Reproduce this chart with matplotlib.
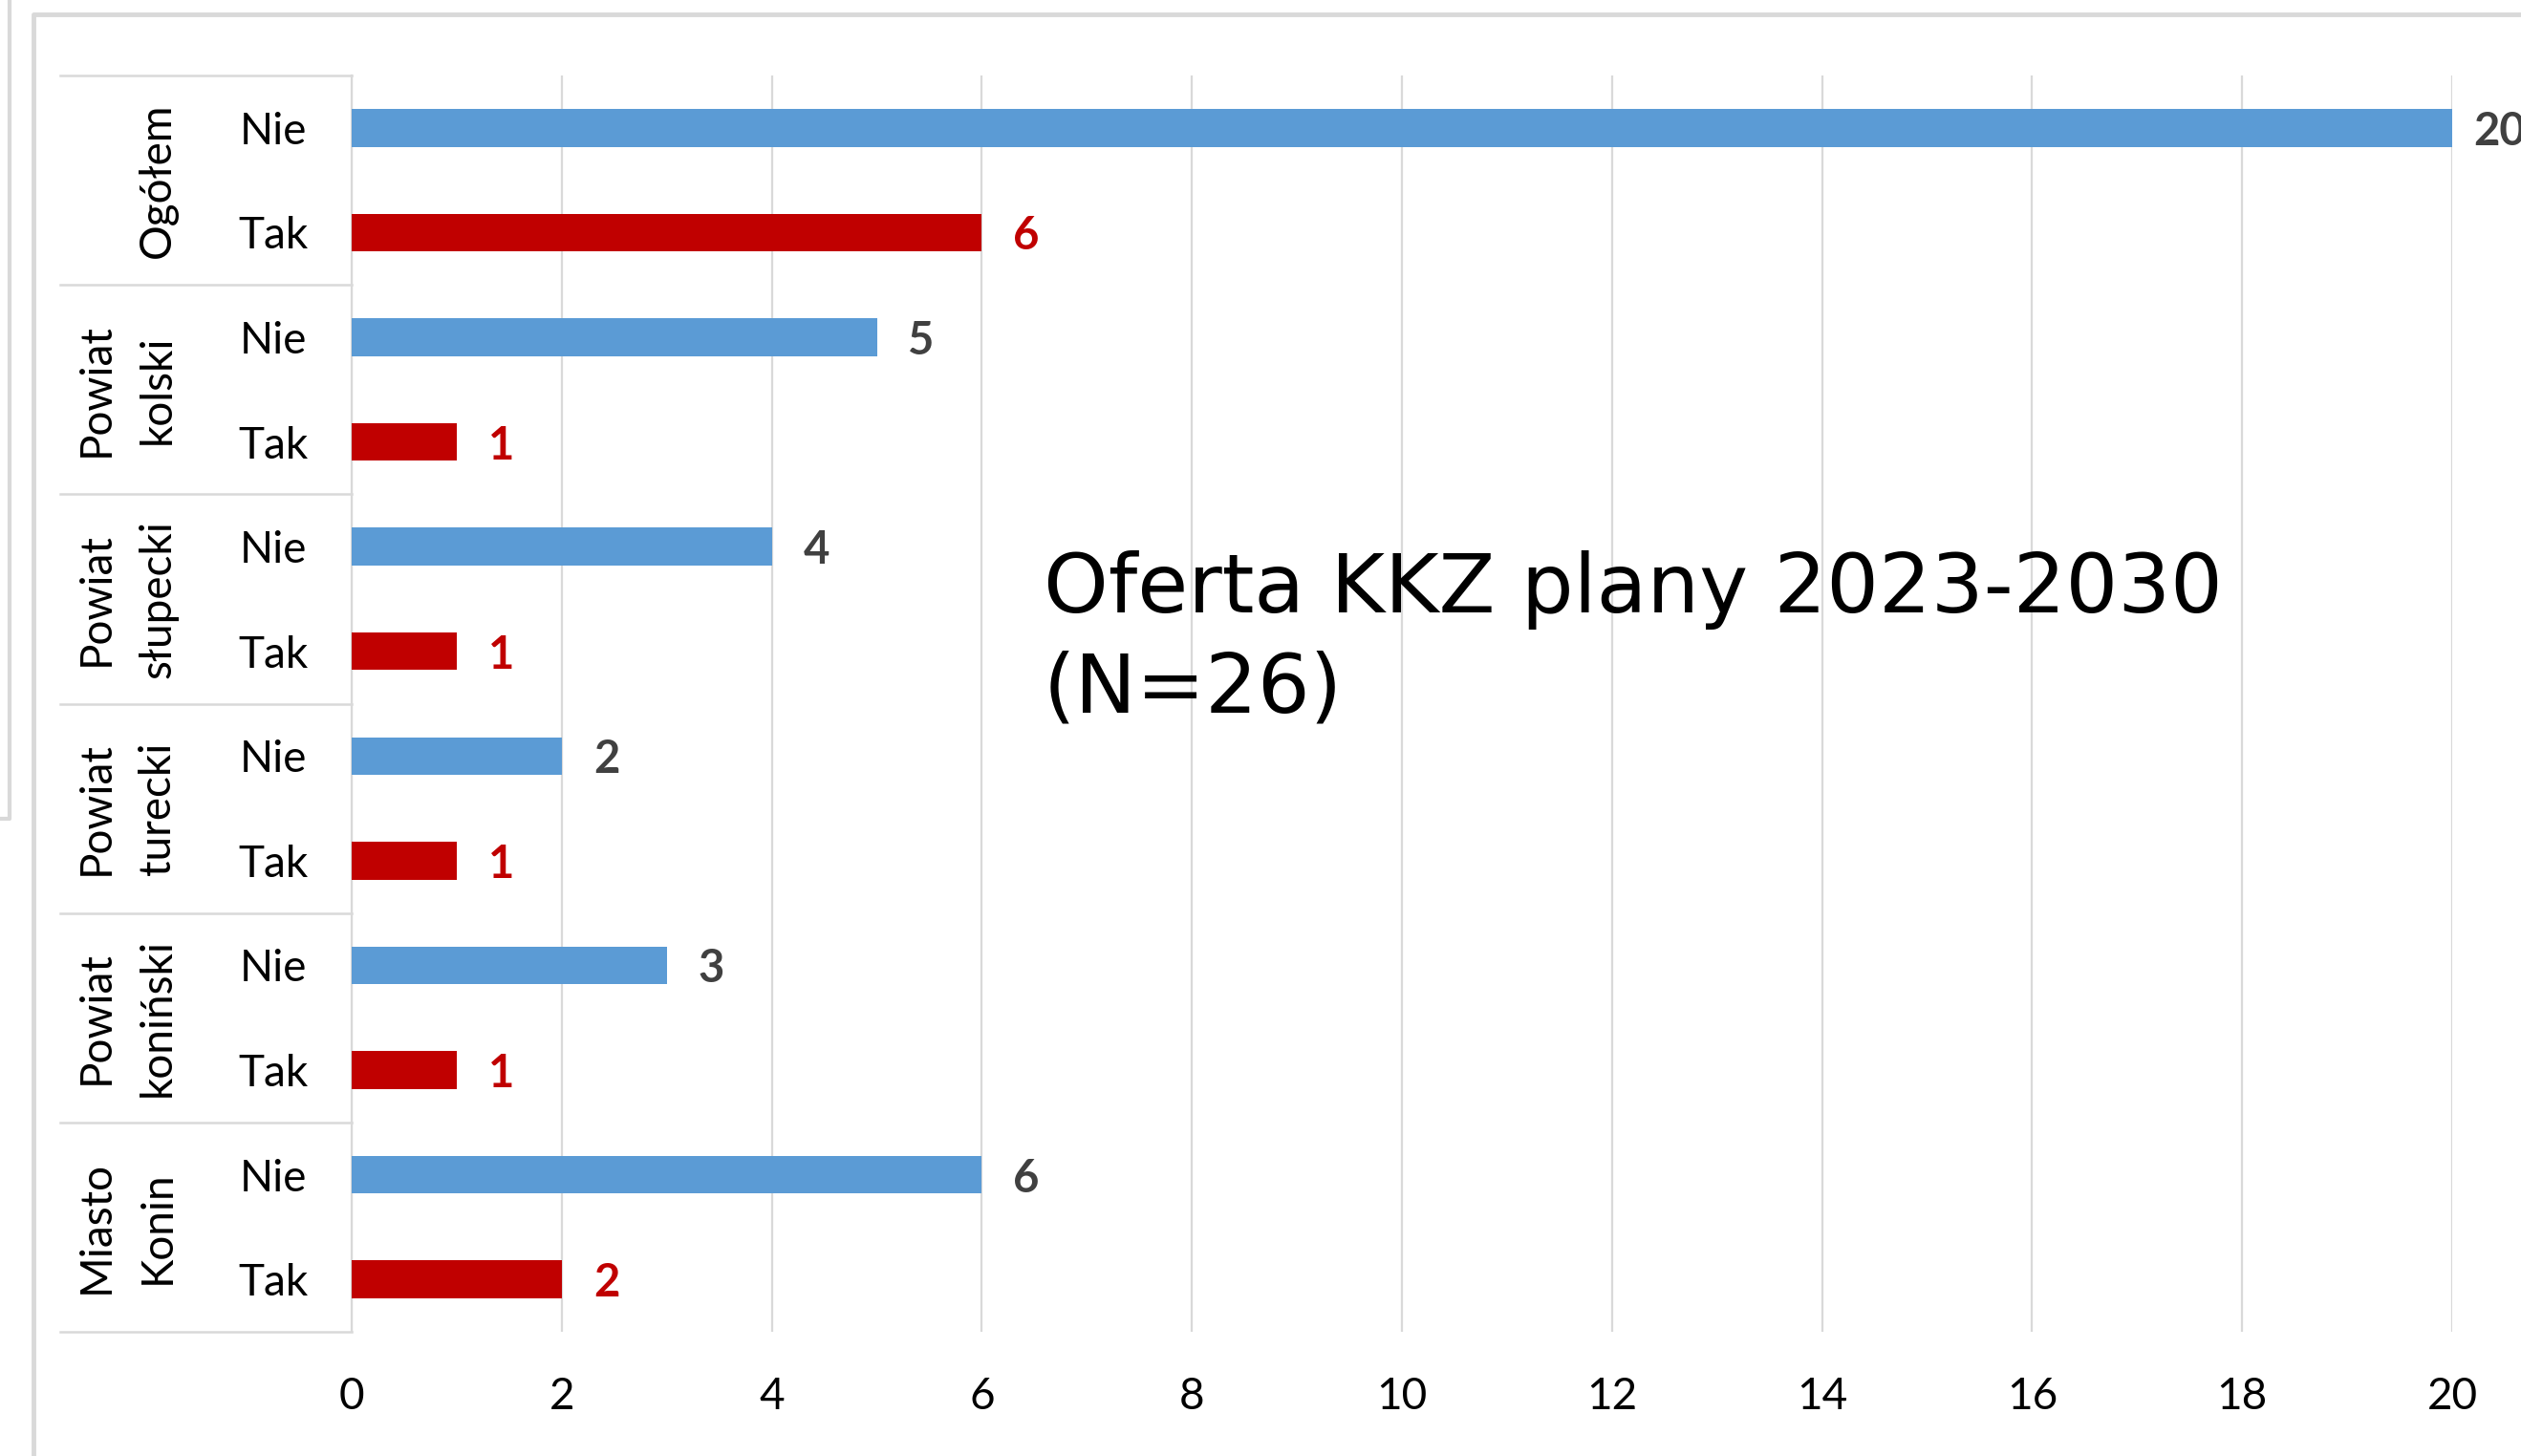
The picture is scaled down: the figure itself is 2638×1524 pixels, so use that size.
import matplotlib
matplotlib.use("Agg")
import matplotlib.pyplot as plt
from matplotlib.lines import Line2D
import matplotlib.transforms as mtransforms
import numpy as np

plt.rcParams['font.family'] = ['Lato', 'DejaVu Sans']

# data
groups = ["Ogółem", "Powiat\nkolski", "Powiat\nsłupecki", "Powiat\nturecki",
          "Powiat\nkoniński", "Miasto\nKonin"]
answers = ["Nie", "Tak"]
nie = [20, 5, 4, 2, 3, 6]
tak = [6, 1, 1, 1, 1, 2]
xticks = [0, 2, 4, 6, 8, 10, 12, 14, 16, 18, 20]
title = "Oferta KKZ plany 2023-2030\n(N=26)"

blue = '#5B9BD5'
red = '#C00000'
grid_c = '#d9d9d9'
W, H = 2638, 1524

fig = plt.figure(figsize=(W / 100, H / 100), dpi=100)

def fx(px):
    return px / W

def fy(py):
    return 1 - py / H

# axes placed in pixels of the reference
ax_l, ax_r, ax_t, ax_b = 368, 2566, 79, 1394
ax = fig.add_axes([fx(ax_l), fy(ax_b), fx(ax_r - ax_l), (ax_b - ax_t) / H])

n = len(groups)
y_nie = np.arange(n) * 2
y_tak = y_nie + 1

ax.barh(y_nie, nie, height=0.36, color=blue, zorder=3)
ax.barh(y_tak, tak, height=0.36, color=red, zorder=3)

ax.set_xlim(0, 20)
ax.set_ylim(2 * n - 0.5, -0.5)

px_per_unit = (ax_r - ax_l) / 20

def label_offset(v):
    # like Excel: labels pushed back inside the chart near the right edge
    room = W - (ax_l + v * px_per_unit) - 50
    return min(33, room)

for y, v in zip(y_nie, nie):
    ax.annotate(str(v), xy=(v, y), xytext=(label_offset(v), 0),
                textcoords='offset pixels', ha='left', va='center_baseline',
                fontsize=34, fontweight='bold', color='#404040',
                annotation_clip=False)
for y, v in zip(y_tak, tak):
    ax.annotate(str(v), xy=(v, y), xytext=(label_offset(v), 0),
                textcoords='offset pixels', ha='left', va='center_baseline',
                fontsize=34, fontweight='bold', color=red,
                annotation_clip=False)

ax.set_xticks(xticks)
ax.set_xticklabels([str(t) for t in xticks], fontsize=33)
ax.tick_params(axis='x', length=0, pad=34)
ax.set_yticks([])
ax.xaxis.grid(True, color=grid_c, lw=1.6, zorder=0)
ax.set_axisbelow(True)
for s in ['top', 'right', 'bottom']:
    ax.spines[s].set_visible(False)
ax.spines['left'].set_color(grid_c)
ax.spines['left'].set_linewidth(1.6)

# category table on the left: x in figure pixels, y in data
trans = mtransforms.blended_transform_factory(fig.transFigure, ax.transData)
for i, g in enumerate(groups):
    yc = 2 * i + 0.5
    lines = g.split('\n')
    xs = [101, 165][-len(lines):]
    for xp, txt in zip(xs, lines):
        fig.text(fx(xp), yc, txt, transform=trans, rotation=90,
                 ha='center', va='center', fontsize=33)
    for j, a in enumerate(answers):
        fig.text(fx(286), 2 * i + j, a, transform=trans, ha='center',
                 va='center_baseline', fontsize=33)
for k in range(n + 1):
    yb = 2 * k - 0.5
    fig.add_artist(Line2D([fx(63), fx(ax_l)], [yb, yb], transform=trans,
                          color=grid_c, lw=1.8))

# outer frame of the screenshot
frame_c = '#d9d9d9'
fig.add_artist(Line2D([fx(10), fx(10), fx(0)], [fy(0), fy(857), fy(857)],
                      transform=fig.transFigure, color=frame_c, lw=3))
fig.add_artist(Line2D([fx(34.5), fx(34.5), fx(W)], [fy(H), fy(15), fy(15)],
                      transform=fig.transFigure, color=frame_c, lw=3.5))

fig.text(fx(1092), fy(746), title, fontsize=62, family='DejaVu Sans',
         ha='left', va='baseline', linespacing=1.34)

fig.savefig('out.png', dpi=100)
